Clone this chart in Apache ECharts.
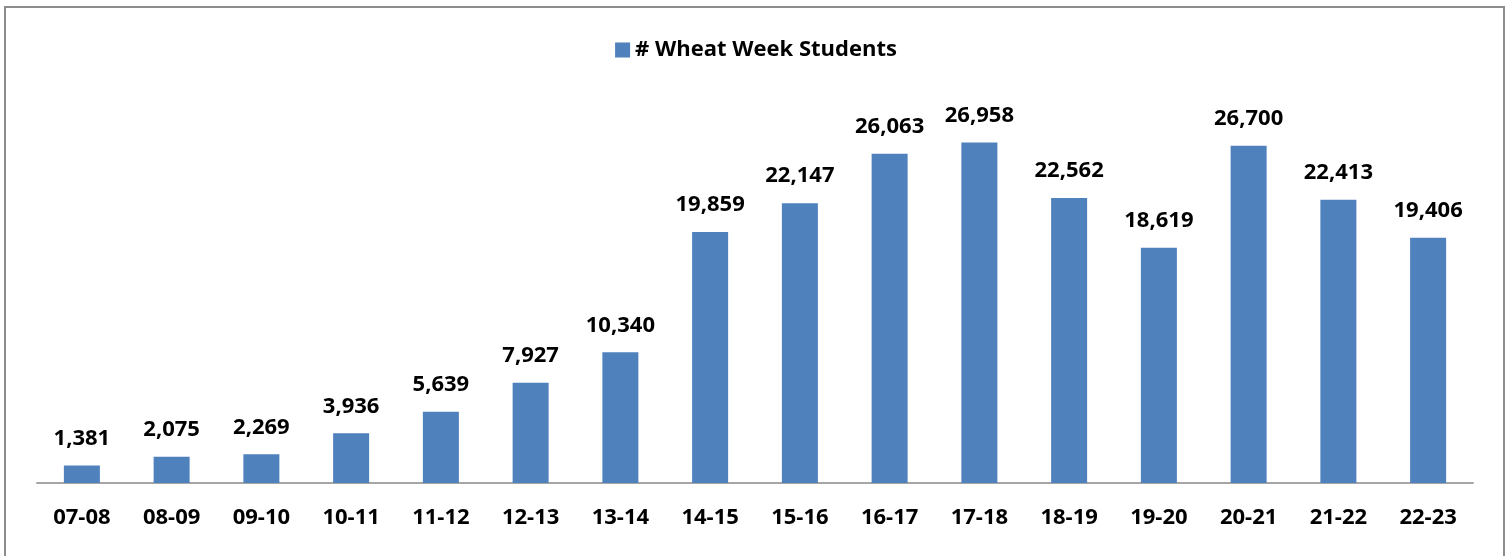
<!DOCTYPE html>
<html>
<head>
<meta charset="utf-8">
<script src="https://cdn.jsdelivr.net/npm/echarts@6/dist/echarts.min.js"></script>
<style>
  html, body { margin: 0; padding: 0; background: #fff; }
  #chart { width: 1512px; height: 556px; }
</style>
</head>
<body>
<div id="chart"></div>
<script>
// school years
const years = ['07-08', '08-09', '09-10', '10-11', '11-12', '12-13', '13-14', '14-15',
  '15-16', '16-17', '17-18', '18-19', '19-20', '20-21', '21-22', '22-23']
// number of students per year
const students = [1381, 2075, 2269, 3936, 5639, 7927, 10340, 19859,
  22147, 26063, 26958, 22562, 18619, 26700, 22413, 19406]

const chart = echarts.init(document.getElementById('chart'))
const font = '"Open Sans", "Noto Sans", sans-serif'

const option = {
  animation: false,
  textStyle: { fontFamily: font },
  graphic: [{
    type: 'rect',
    shape: { x: 5, y: 7, width: 1499, height: 570 },
    style: { fill: 'none', stroke: '#8c8c8c', lineWidth: 2 },
    silent: true
  }],
  legend: {
    top: 34,
    left: 'center',
    itemWidth: 15,
    itemHeight: 15,
    itemGap: 6,
    icon: 'rect',
    textStyle: { fontFamily: font, fontSize: 22, fontWeight: 'bold', color: '#000' }
  },
  grid: { left: 37, right: 39, top: 104, bottom: 73 },
  xAxis: {
    type: 'category',
    data: years,
    axisLine: { lineStyle: { color: '#a6a6a6', width: 2 } },
    axisTick: { show: false },
    axisLabel: { margin: 24, fontFamily: font, fontSize: 22, fontWeight: 'bold', color: '#000' }
  },
  yAxis: {
    type: 'value',
    min: 0,
    max: 30000,
    show: false,
    splitLine: { show: false }
  },
  series: [{
    name: '# Wheat Week Students',
    type: 'bar',
    data: students,
    barWidth: 36,
    itemStyle: { color: '#4f81bd' },
    label: {
      show: true,
      position: 'top',
      distance: 16,
      fontFamily: font,
      fontSize: 22,
      fontWeight: 'bold',
      color: '#000',
      formatter: p => p.value.toLocaleString('en-US')
    }
  }]
}
chart.setOption(option)
</script>
</body>
</html>
